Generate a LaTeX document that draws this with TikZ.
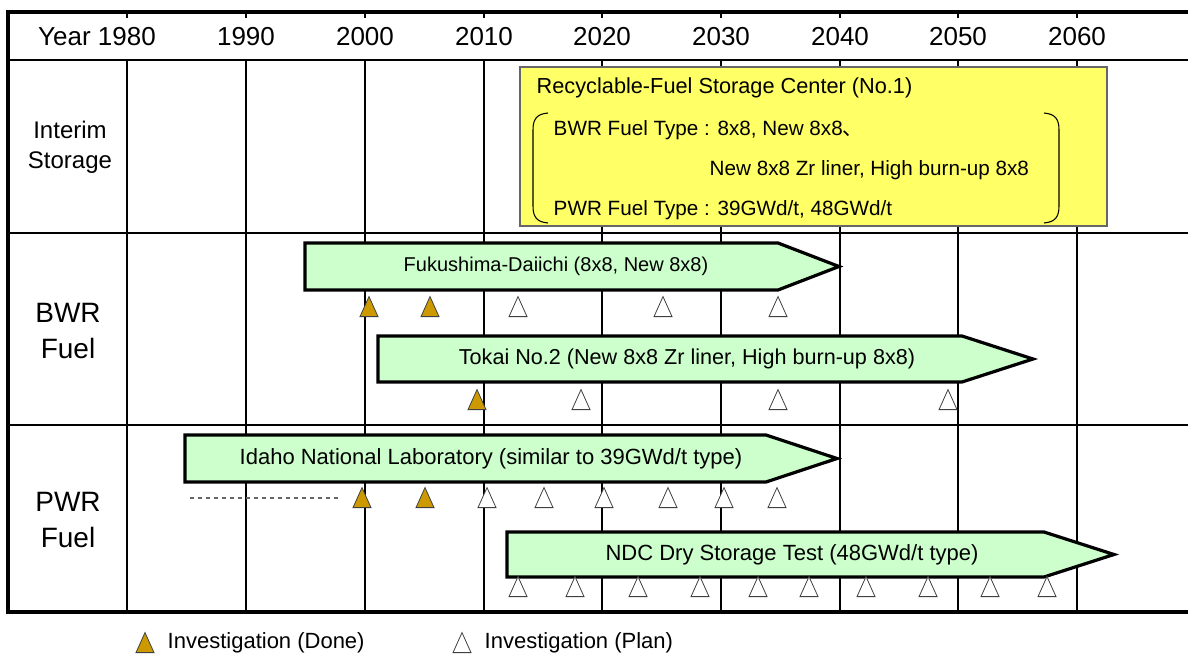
\documentclass[tikz,border=0pt]{standalone}
\usepackage{fontspec}
\setmainfont{Liberation Sans}
\newfontfamily\jpfont{Noto Sans CJK JP}
\usetikzlibrary{shapes.geometric}
\definecolor{boxyellow}{RGB}{255,255,102}
\definecolor{bargreen}{RGB}{204,255,204}
\definecolor{doneorange}{RGB}{204,153,0}

\begin{document}
\begin{tikzpicture}[x=0.75pt,y=-0.75pt,
  frame/.style={line width=2.4pt},
  gridline/.style={line width=1.1pt},
  bar/.style={draw, line width=2.4pt, fill=bargreen, line join=miter},
  barlabel/.style={font=\fontsize{16.5}{19}\selectfont},
  yearlabel/.style={font=\fontsize{19.5}{23}\selectfont},
  rowlabel/.style={align=center, font=\fontsize{18}{22.5}\selectfont},
  fuellabel/.style={align=center, font=\fontsize{21}{27}\selectfont},
  boxtext/.style={anchor=west, font=\fontsize{15.5}{18}\selectfont},
  tri/.style={isosceles triangle, isosceles triangle stretches, shape border rotate=90,
    minimum width=13.5pt, minimum height=15pt, inner sep=0pt, anchor=lower side, line width=0.6pt},
  done/.style={tri, draw=black!75, fill=doneorange},
  plan/.style={tri, draw=black!75, fill=white}
]
\useasboundingbox (0,0) rectangle (1188,656);

% table frame and rows
\draw[frame] (1190,12) -- (8,12) -- (8,612) -- (1190,612);
\draw[gridline] (8,60) -- (1190,60);
\draw[gridline] (8,233) -- (1190,233);
\draw[gridline] (8,425) -- (1190,425);

% year lines
\draw[gridline] (127,60) -- (127,612) (246,60) -- (246,612) (365,60) -- (365,612)
  (484,60) -- (484,612) (602,60) -- (602,612) (721,60) -- (721,612)
  (840,60) -- (840,612) (958,60) -- (958,612) (1077,60) -- (1077,612);
\draw[gridline] (127,12) -- (127,18) (246,12) -- (246,18) (365,12) -- (365,18)
  (484,12) -- (484,18) (602,12) -- (602,18) (721,12) -- (721,18)
  (840,12) -- (840,18) (958,12) -- (958,18) (1077,12) -- (1077,18);

\node[yearlabel] (y1980) at (97,37) {Year 1980};
\node[yearlabel] (y1990) at (246,37) {1990};
\node[yearlabel] (y2000) at (365,37) {2000};
\node[yearlabel] (y2010) at (484,37) {2010};
\node[yearlabel] (y2020) at (602,37) {2020};
\node[yearlabel] (y2030) at (721,37) {2030};
\node[yearlabel] (y2040) at (840,37) {2040};
\node[yearlabel] (y2050) at (958,37) {2050};
\node[yearlabel] (y2060) at (1077,37) {2060};

\node[rowlabel] (interim) at (70,147) {Interim\\Storage};
\node[fuellabel] (bwr) at (68,331) {BWR\\Fuel};
\node[fuellabel] (pwr) at (68,520) {PWR\\Fuel};

% interim storage
\draw[draw=black!60, fill=boxyellow, line width=0.8pt] (520,67) rectangle (1107,226);
\node[boxtext, font=\fontsize{16.3}{19}\selectfont] (center) at (532,88) {Recyclable-Fuel Storage Center (No.1)};
\node[boxtext] (bwrtype) at (549,130) {BWR Fuel Type : 8x8, New 8x8{\jpfont 、}};
\node[boxtext] (bwrtype2) at (705,170) {New 8x8 Zr liner, High burn-up 8x8};
\node[boxtext] (pwrtype) at (549,210) {PWR Fuel Type : 39GWd/t, 48GWd/t};
\draw[line width=0.8pt] (548,113) .. controls (536,114) and (533,120) .. (533,130) -- (533,206)
  .. controls (533,216) and (536,222) .. (548,223);
\draw[line width=0.8pt] (1044,113) .. controls (1056,114) and (1059,120) .. (1059,130) -- (1059,206)
  .. controls (1059,216) and (1056,222) .. (1044,223);

% BWR fuel
\draw[bar] (305,243) -- (778,243) -- (839,266.5) -- (778,290) -- (305,290) -- cycle;
\node[barlabel, font=\fontsize{15}{18}\selectfont] (fukushima) at (556,266.5) {Fukushima-Daiichi (8x8, New 8x8)};
\node[done] (f1) at (369,317) {};
\node[done] (f2) at (430,317) {};
\node[plan] (f3) at (518,317) {};
\node[plan] (f4) at (663,317) {};
\node[plan] (f5) at (778,317) {};

\draw[bar] (378,336) -- (962,336) -- (1033,359) -- (962,382) -- (378,382) -- cycle;
\node[barlabel, font=\fontsize{16.2}{19}\selectfont] (tokai) at (687,359) {Tokai No.2 (New 8x8 Zr liner, High burn-up 8x8)};
\node[done] (t1) at (477,410) {};
\node[plan] (t2) at (581,410) {};
\node[plan] (t3) at (778,410) {};
\node[plan] (t4) at (948,410) {};

% PWR fuel
\draw[bar] (185,435) -- (766,435) -- (837,458.5) -- (766,482) -- (185,482) -- cycle;
\node[barlabel] (idaho) at (491,458.5) {Idaho National Laboratory (similar to 39GWd/t type)};
\coordinate (dashL) at (190,498);
\coordinate (dashR) at (340,498);
\draw[dashed, black!60, line width=0.8pt] (dashL) -- (dashR);
\node[done] (i1) at (362,508) {};
\node[done] (i2) at (425,508) {};
\node[plan] (i3) at (487,508) {};
\node[plan] (i4) at (544,508) {};
\node[plan] (i5) at (604,508) {};
\node[plan] (i6) at (668,508) {};
\node[plan] (i7) at (724,508) {};
\node[plan] (i8) at (777,508) {};

\draw[bar] (507,532) -- (1044,532) -- (1114,554.5) -- (1044,577) -- (507,577) -- cycle;
\node[barlabel] (ndc) at (792,554.5) {NDC Dry Storage Test (48GWd/t type)};
\node[plan] (n1) at (518,597) {};
\node[plan] (n2) at (575,597) {};
\node[plan] (n3) at (638,597) {};
\node[plan] (n4) at (700,597) {};
\node[plan] (n5) at (758,597) {};
\node[plan] (n6) at (809,597) {};
\node[plan] (n7) at (866,597) {};
\node[plan] (n8) at (928,597) {};
\node[plan] (n9) at (990,597) {};
\node[plan] (n10) at (1047,597) {};

% legend
\node[done] (legdone) at (145,653) {};
\node[barlabel, anchor=west] (legdonetext) at (163,643) {Investigation (Done)};
\node[plan] (legplan) at (462,653) {};
\node[barlabel, anchor=west] (legplantext) at (480,643) {Investigation (Plan)};
\end{tikzpicture}
\end{document}
